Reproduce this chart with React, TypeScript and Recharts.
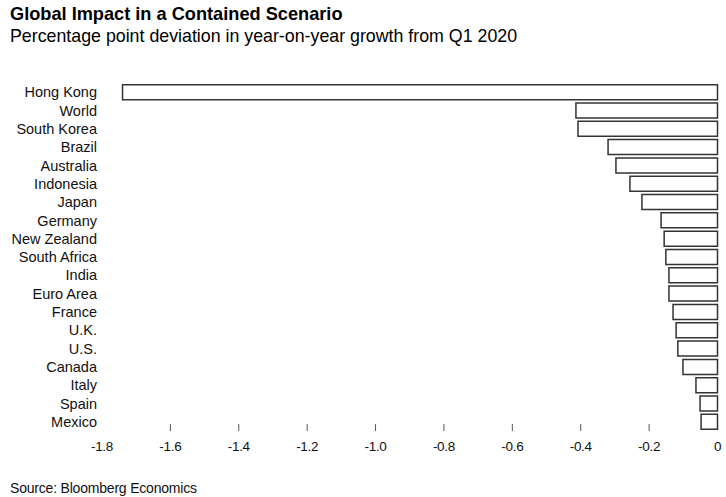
import React from "react";
import { BarChart, Bar, XAxis, YAxis } from "recharts";

const countries = [
  "Hong Kong", "World", "South Korea", "Brazil", "Australia", "Indonesia", "Japan",
  "Germany", "New Zealand", "South Africa", "India", "Euro Area", "France", "U.K.",
  "U.S.", "Canada", "Italy", "Spain", "Mexico",
];
const deviation = [
  -1.74, -0.414, -0.408, -0.32, -0.297, -0.256, -0.221, -0.165, -0.156, -0.151,
  -0.142, -0.142, -0.13, -0.121, -0.116, -0.101, -0.063, -0.051, -0.048,
];
const xTicks = [-1.8, -1.6, -1.4, -1.2, -1.0, -0.8, -0.6, -0.4, -0.2, 0];
const xTickLabels = ["-1.8", "-1.6", "-1.4", "-1.2", "-1.0", "-0.8", "-0.6", "-0.4", "-0.2", "0"];

const data = countries.map((c, i) => ({ name: c, value: deviation[i] }));

const FONT = "'Liberation Sans', Arial, sans-serif";

const XTick = (props: any) => {
  const { x, y, payload } = props;
  const idx = xTicks.indexOf(payload.value);
  const showLine = payload.value !== -1.8 && payload.value !== 0;
  return (
    <g>
      {showLine && <line x1={x} x2={x} y1={y - 7} y2={y} stroke="#555" strokeWidth={1} />}
      <text x={x} y={y + 20} textAnchor="middle" fontSize={13.5} letterSpacing={-0.3} fill="#111" fontFamily={FONT}>
        {idx >= 0 ? xTickLabels[idx] : payload.value}
      </text>
    </g>
  );
};

export default function App() {
  return (
    <div style={{ position: "absolute", left: 0, top: 0, width: 726, height: 497, background: "#fff", fontFamily: FONT }}>
      <div style={{ position: "absolute", left: 10, top: 4, fontSize: 18.2, fontWeight: 700, color: "#000", whiteSpace: "nowrap" }}>
        Global Impact in a Contained Scenario
      </div>
      <div style={{ position: "absolute", left: 10, top: 25.5, fontSize: 17.8, color: "#000", whiteSpace: "nowrap" }}>
        Percentage point deviation in year-on-year growth from Q1 2020
      </div>
      <BarChart
        width={726}
        height={497}
        data={data}
        layout="vertical"
        margin={{ top: 83, right: 8.5, bottom: 36, left: 2 }}
        barCategoryGap="9%"
      >
        <XAxis
          type="number"
          dataKey="value"
          domain={[-1.8, 0]}
          ticks={xTicks}
          axisLine={false}
          tickLine={false}
          tickSize={0}
          tickMargin={0}
          height={30}
          interval={0}
          tick={<XTick />}
        />
        <YAxis
          type="category"
          dataKey="name"
          width={100}
          axisLine={false}
          tickLine={false}
          tickSize={0}
          tickMargin={5}
          interval={0}
          tick={{ fontSize: 14.5, fill: "#111", fontFamily: FONT }}
        />
        <Bar dataKey="value" fill="#fff" stroke="#333" strokeWidth={1.5} isAnimationActive={false} />
      </BarChart>
      <div style={{ position: "absolute", left: 10, top: 480, fontSize: 14, letterSpacing: -0.2, color: "#111", whiteSpace: "nowrap" }}>
        Source: Bloomberg Economics
      </div>
    </div>
  );
}
